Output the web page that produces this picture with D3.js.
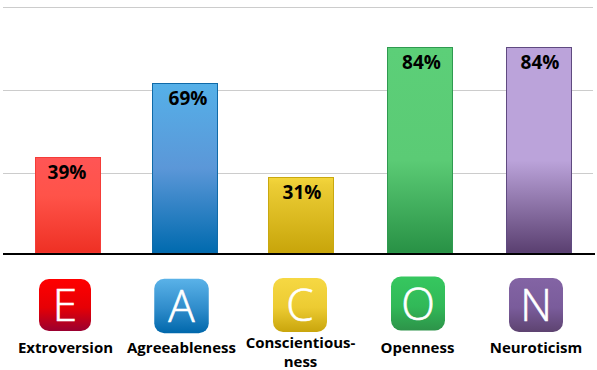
<!DOCTYPE html>
<html><head><meta charset="utf-8">
<script src="https://cdn.jsdelivr.net/npm/d3@7/dist/d3.min.js"></script>
<style>html,body{margin:0;padding:0;background:#fff}svg{display:block}</style>
</head><body><div id="c"></div>
<script>
const categories = ["Extroversion","Agreeableness","Conscientiousness","Openness","Neuroticism"];
const values = [39,69,31,84,84];
const letters = ["E","A","C","O","N"];
const labelLines = [["Extroversion"],["Agreeableness"],["Conscientious-","ness"],["Openness"],["Neuroticism"]];
const gridTicks = [32.5,66.5,100];
const barTop = ["#ff5555","#55b0e8","#f4d63c","#5ccf78","#bba3da"];
const barMid = ["#ff5349","#5b97d8","#eccd35","#5bcb75","#bba3da"];
const barBottom = ["#ee3024","#006aae","#c8a50a","#289145","#5a3f70"];
const barStroke = ["#f43c38","#0f6aa8","#c9a80f","#2f9a50","#5f4a80"];
const midStop = [0.4,0.5,0.1,0.55,0.55];
const iconTop = ["#ff0000","#5ab2e8","#f6d843","#36c75f","#8364a4"];
const iconMid = ["#e60005","#2f8ccb","#eccb32","#31b958","#7a5c9b"];
const iconBottom = ["#9a0030","#0067ab","#c9a50c","#2d9349","#5d4370"];

const W=597,H=370;
const y=d3.scaleLinear().domain([0,100]).range([253,7.9]);
const x=d3.scaleOrdinal().domain(categories).range([68,185,301,420,539]);
const valueX=d3.scaleOrdinal().domain(categories).range([67,188,302,421.5,540]);
const iconX=d3.scaleOrdinal().domain(categories).range([65,181.5,300,418,536]);
const iconY=d3.scaleOrdinal().domain(categories).range([305,306,305,303.5,305]);
const iconSize=d3.scaleOrdinal().domain(categories).range([52,54.5,54,54,54]);
const labelX=d3.scaleOrdinal().domain(categories).range([65.5,181.5,300.5,417.5,536]);
const barW=65;

const svg=d3.select("#c").append("svg").attr("width",W).attr("height",H);
const defs=svg.append("defs");
categories.forEach((c,i)=>{
  const g=defs.append("linearGradient").attr("id","bar"+i).attr("x1",0).attr("y1",0).attr("x2",0).attr("y2",1);
  g.append("stop").attr("offset",0).attr("stop-color",barTop[i]);
  g.append("stop").attr("offset",midStop[i]).attr("stop-color",barMid[i]);
  g.append("stop").attr("offset",1).attr("stop-color",barBottom[i]);
  const k=defs.append("linearGradient").attr("id","icon"+i).attr("x1",0).attr("y1",0).attr("x2",0).attr("y2",1);
  k.append("stop").attr("offset",0).attr("stop-color",iconTop[i]);
  k.append("stop").attr("offset",0.55).attr("stop-color",iconMid[i]);
  k.append("stop").attr("offset",1).attr("stop-color",iconBottom[i]);
});
const py=v=>Math.floor(y(v));

svg.append("g").selectAll("line").data(gridTicks).join("line")
  .attr("x1",3).attr("x2",593).attr("y1",d=>py(d)+0.5).attr("y2",d=>py(d)+0.5)
  .attr("stroke","#cccccc").attr("stroke-width",1);

const bars=svg.append("g").selectAll("g").data(categories).join("g");
bars.append("rect")
  .attr("x",d=>x(d)-barW/2).attr("width",barW)
  .attr("y",(d,i)=>py(values[i])+0.5)
  .attr("height",(d,i)=>y(0)-py(values[i])-0.5)
  .attr("fill",(d,i)=>`url(#bar${i})`)
  .attr("stroke",(d,i)=>barStroke[i]).attr("stroke-width",1);
bars.append("text").text((d,i)=>values[i]+"%")
  .attr("x",d=>valueX(d)).attr("y",(d,i)=>py(values[i])+22)
  .attr("text-anchor","middle").attr("font-family","'Open Sans'").attr("font-weight",700)
  .attr("font-size",19).attr("fill","#000");

svg.append("rect").attr("x",3).attr("y",253).attr("width",592).attr("height",2).attr("fill","#000");

const icons=svg.append("g").selectAll("g").data(categories).join("g")
  .attr("transform",d=>`translate(${iconX(d)},${iconY(d)})`);
icons.append("rect")
  .attr("x",d=>-iconSize(d)/2).attr("y",d=>-iconSize(d)/2)
  .attr("width",d=>iconSize(d)).attr("height",d=>iconSize(d))
  .attr("rx",10).attr("fill",(d,i)=>`url(#icon${i})`);
icons.append("text").text((d,i)=>letters[i])
  .attr("text-anchor","middle").attr("y",16).attr("font-family","'Open Sans'").attr("font-weight",300)
  .attr("font-size",44).attr("fill","#fff").attr("stroke","#fff").attr("stroke-width",0.6);

const labels=svg.append("g").selectAll("text").data(categories).join("text")
  .attr("text-anchor","middle").attr("font-family","'Open Sans'").attr("font-weight",700)
  .attr("font-size",15).attr("fill","#000");
labels.selectAll("tspan").data((d,i)=>labelLines[i].map(t=>({t,c:d}))).join("tspan")
  .attr("x",d=>labelX(d.c)).attr("y",(d,j)=>(d.c==="Conscientiousness"?348:353)+j*19).text(d=>d.t);
</script></body></html>
